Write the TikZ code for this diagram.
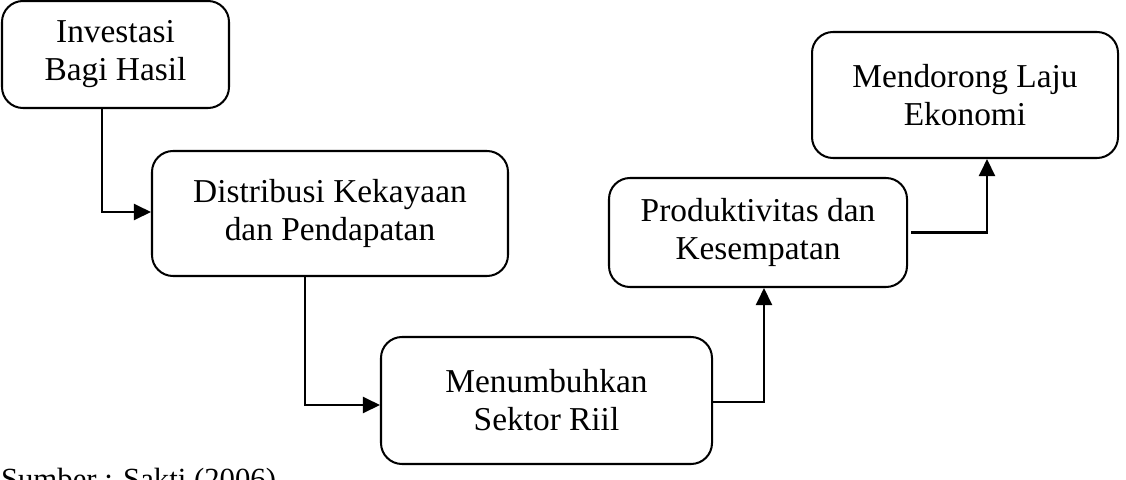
\documentclass[tikz,border=0pt]{standalone}
\usepackage{fontspec}
\setmainfont{Liberation Serif}
\usepackage{tikz}
\usetikzlibrary{arrows.meta,positioning}

\begin{document}
\begin{tikzpicture}[-{Triangle[length=0.34cm,width=0.32cm]},line width=1.15pt,
  box/.style={draw,rounded corners=0.42cm,align=center,inner sep=0pt,
    font=\fontsize{19}{21.6}\selectfont}]
  \useasboundingbox (0,0) rectangle (22.52,-9.58);

  \node [box,minimum width=4.54cm,minimum height=2.14cm] (invest) at (2.31,-1.09) {Investasi\\Bagi Hasil};
  \node [box,minimum width=7.12cm,minimum height=2.50cm] (distrib) at (6.60,-4.27) {Distribusi Kekayaan\\dan Pendapatan};
  \node [box,minimum width=6.62cm,minimum height=2.54cm] (sektor) at (10.93,-8.01) {Menumbuhkan\\Sektor Riil};
  \node [box,minimum width=5.96cm,minimum height=2.18cm] (produk) at (15.16,-4.65) {Produktivitas dan\\Kesempatan};
  \node [box,minimum width=6.12cm,minimum height=2.52cm] (laju) at (19.30,-1.90) {Mendorong Laju\\Ekonomi};

  \node [anchor=base west,inner sep=0pt,font=\fontsize{17.5}{20}\selectfont] (sumber) at (0,-9.78) {Sumber : Sakti (2006)};

  \draw ([xshift=-0.27cm]invest.south) |- ([yshift=0.03cm]distrib.west);
  \draw ([xshift=-0.50cm]distrib.south) |- ([yshift=-0.09cm]sektor.west);
  \draw ([yshift=-0.03cm]sektor.east) -| ([xshift=0.12cm]produk.south);
  \draw ([xshift=0.06cm]produk.east) -| ([xshift=0.44cm]laju.south);
\end{tikzpicture}
\end{document}
